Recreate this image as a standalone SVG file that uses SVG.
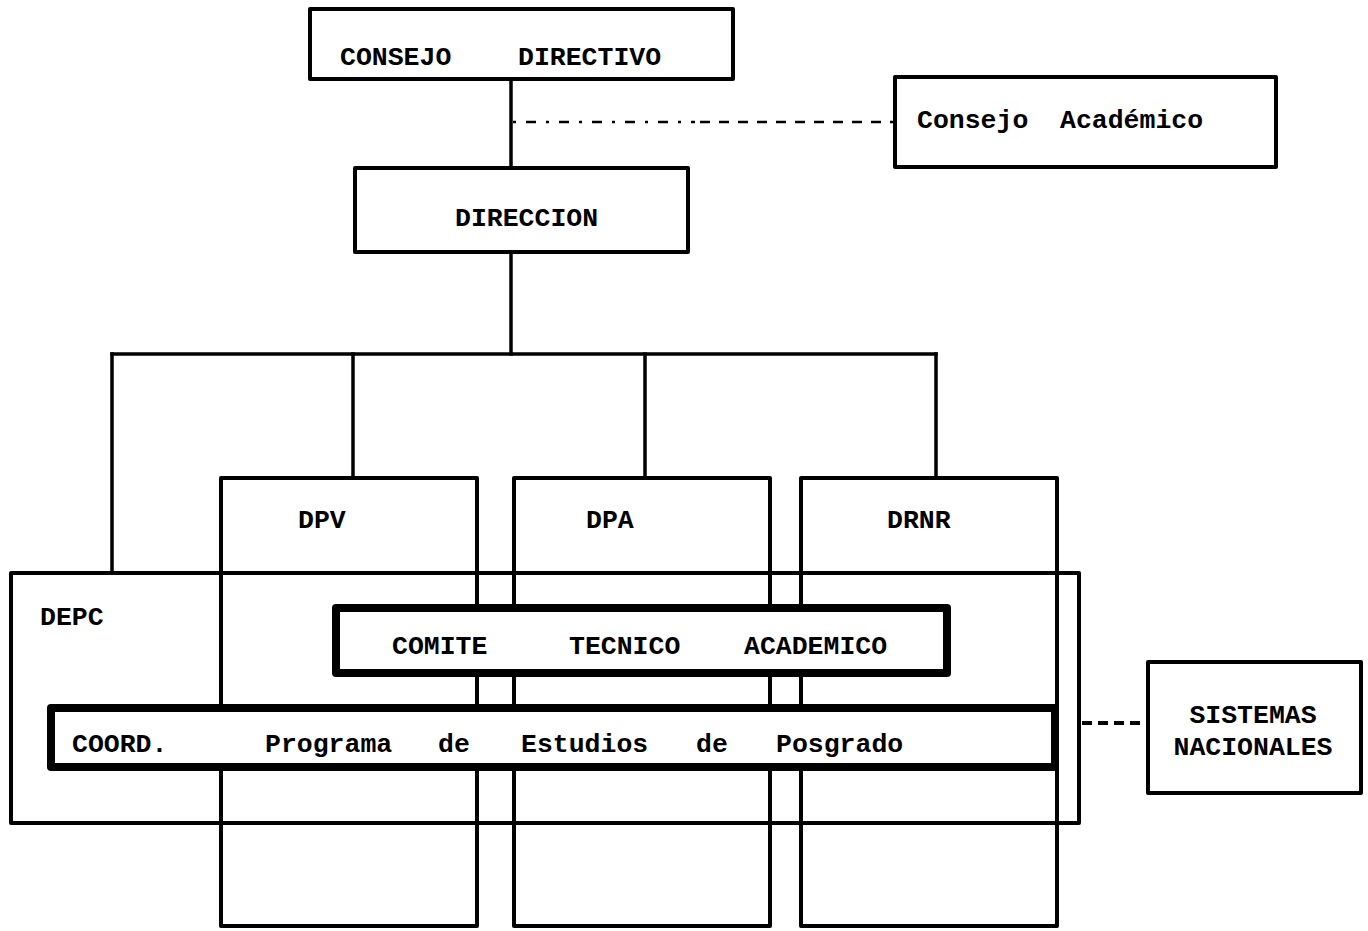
<svg xmlns="http://www.w3.org/2000/svg" width="1368" height="931" viewBox="0 0 1368 931">
<style>
  .box { fill: none; stroke: #000; stroke-width: 4; stroke-linejoin: round; }
  .heavy { fill: #fff; stroke: #000; stroke-width: 8; stroke-linejoin: round; }
  .ln { fill: none; stroke: #000; stroke-width: 3.5; stroke-linecap: square; }
  .dashdot { fill: none; stroke: #000; stroke-width: 2.5; stroke-dasharray: 3 10 10 10; }
  .dashed { fill: none; stroke: #000; stroke-width: 2.5; stroke-dasharray: 10 9; }
  .dash { fill: none; stroke: #000; stroke-width: 4; stroke-dasharray: 10 6; }
  text { font-family: "Liberation Mono", "DejaVu Sans Mono", monospace; font-size: 26.5px; font-weight: bold; fill: #000; }
</style>
<rect width="1368" height="931" fill="#fff"/>

<g id="connectors">
  <line class="ln" x1="511" y1="80" x2="511" y2="167"/>
  <line class="dashdot" x1="513" y1="122" x2="695" y2="122"/>
  <line class="dashed" x1="700" y1="122" x2="895" y2="122"/>
  <line class="ln" x1="511" y1="252" x2="511" y2="354"/>
  <line class="ln" x1="112" y1="354" x2="936" y2="354"/>
  <line class="ln" x1="112" y1="354" x2="112" y2="572"/>
  <line class="ln" x1="353" y1="354" x2="353" y2="478"/>
  <line class="ln" x1="645" y1="354" x2="645" y2="478"/>
  <line class="ln" x1="936" y1="354" x2="936" y2="478"/>
  <line class="dash" x1="1082" y1="723" x2="1148" y2="723"/>
</g>

<g id="consejo-directivo">
  <rect class="box" x="310" y="9" width="423" height="70"/>
  <text x="340" y="65">CONSEJO</text>
  <text x="518" y="65">DIRECTIVO</text>
</g>

<g id="consejo-academico">
  <rect class="box" x="895" y="77" width="381" height="90"/>
  <text x="917" y="128">Consejo</text>
  <text x="1060" y="128">Académico</text>
</g>

<g id="direccion">
  <rect class="box" x="355" y="168" width="333" height="84"/>
  <text x="455" y="226">DIRECCION</text>
</g>

<g id="depc">
  <rect class="box" x="11" y="573" width="1068" height="250"/>
  <text x="40" y="625">DEPC</text>
</g>

<g id="dpv">
  <rect class="box" x="221" y="478" width="256" height="448"/>
  <text x="298" y="528">DPV</text>
</g>

<g id="dpa">
  <rect class="box" x="514" y="478" width="256" height="448"/>
  <text x="586" y="528">DPA</text>
</g>

<g id="drnr">
  <rect class="box" x="801" y="478" width="256" height="448"/>
  <text x="887" y="528">DRNR</text>
</g>

<g id="comite">
  <rect class="heavy" x="336" y="608" width="611" height="65"/>
  <text x="392" y="654">COMITE</text>
  <text x="569" y="654">TECNICO</text>
  <text x="744" y="654">ACADEMICO</text>
</g>

<g id="coord">
  <rect class="heavy" x="51" y="708" width="1004" height="59"/>
  <text x="72" y="752">COORD.</text>
  <text x="265" y="752">Programa</text>
  <text x="438" y="752">de</text>
  <text x="521" y="752">Estudios</text>
  <text x="696" y="752">de</text>
  <text x="776" y="752">Posgrado</text>
</g>

<g id="sistemas">
  <rect class="box" x="1148" y="662" width="213" height="131"/>
  <text x="1253" y="723" text-anchor="middle">SISTEMAS</text>
  <text x="1253" y="755" text-anchor="middle">NACIONALES</text>
</g>
</svg>
